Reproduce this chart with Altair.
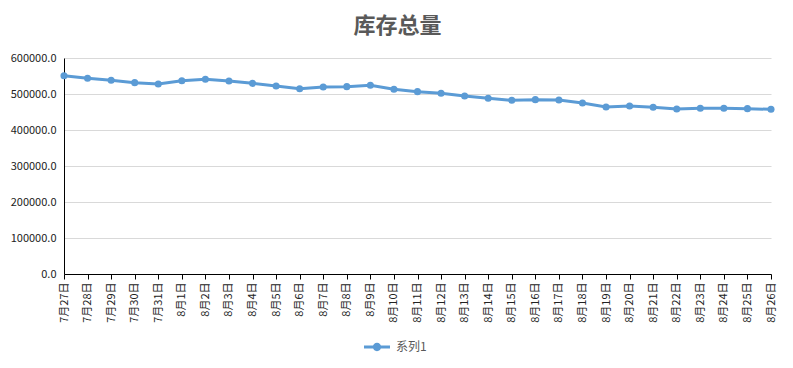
import altair as alt
import pandas as pd

dates = ["7月27日", "7月28日", "7月29日", "7月30日", "7月31日",
         "8月1日", "8月2日", "8月3日", "8月4日", "8月5日", "8月6日", "8月7日",
         "8月8日", "8月9日", "8月10日", "8月11日", "8月12日", "8月13日", "8月14日",
         "8月15日", "8月16日", "8月17日", "8月18日", "8月19日", "8月20日", "8月21日",
         "8月22日", "8月23日", "8月24日", "8月25日", "8月26日"]
values = [550800, 543600, 538000, 531500, 527800,
          537000, 540800, 536100, 529600, 522200, 514800, 519400,
          520400, 524100, 513000, 506500, 501900, 494400, 488000,
          482400, 484300, 483300, 475000, 463900, 466700, 463000,
          458300, 460200, 460200, 459300, 457400]
series = ["系列1"] * len(dates)

df = pd.DataFrame({"date": dates, "value": values, "series": series})

FONT = "Noto Sans CJK SC"
BLUE = "#5b9bd5"

legend_path = ("M-1,-0.12L1,-0.12L1,0.12L-1,0.12Z "
               "M-0.32,0A0.32,0.32 0 1,1 0.32,0A0.32,0.32 0 1,1 -0.32,0Z")

base = alt.Chart(df).encode(
    x=alt.X("date:N", sort=dates, title=None,
            scale=alt.Scale(type="point", padding=0),
            axis=alt.Axis(labelAngle=-90, labelFontSize=11, labelFont=FONT,
                          labelColor="#222", domainColor="#000", tickColor="#000",
                          tickSize=5, labelPadding=3, grid=False)),
    y=alt.Y("value:Q", title=None,
            scale=alt.Scale(domain=[0, 600000], nice=False),
            axis=alt.Axis(values=[0, 100000, 200000, 300000, 400000, 500000, 600000],
                          format=".1f", labelFontSize=11, labelFont=FONT,
                          labelColor="#222", domainColor="#000", tickSize=0,
                          labelPadding=8, gridColor="#d9d9d9", gridWidth=1)),
    color=alt.Color("series:N", title=None,
                    scale=alt.Scale(range=[BLUE]),
                    legend=alt.Legend(orient="none", legendX=300, legendY=276,
                                      symbolType=legend_path, symbolSize=676,
                                      symbolFillColor=BLUE, symbolStrokeWidth=0,
                                      labelFont=FONT, labelFontSize=12,
                                      labelColor="#595959", labelOffset=6)),
)

line = base.mark_line(strokeWidth=3, color=BLUE)
pts = base.mark_circle(size=50, opacity=1, color=BLUE)

chart = (line + pts).properties(
    width=707, height=216,
    title=alt.TitleParams("库存总量", font=FONT, fontSize=22, fontWeight="bold",
                          color="#595959", anchor="middle", dx=-20, offset=14),
    autosize=alt.AutoSizeParams(type="none"),
    padding={"left": 56, "top": 50, "right": 14, "bottom": 80},
).configure(background="white", view=alt.ViewConfig(stroke=None))

chart.save("out.html", embed_options={"renderer": "svg", "actions": False})
